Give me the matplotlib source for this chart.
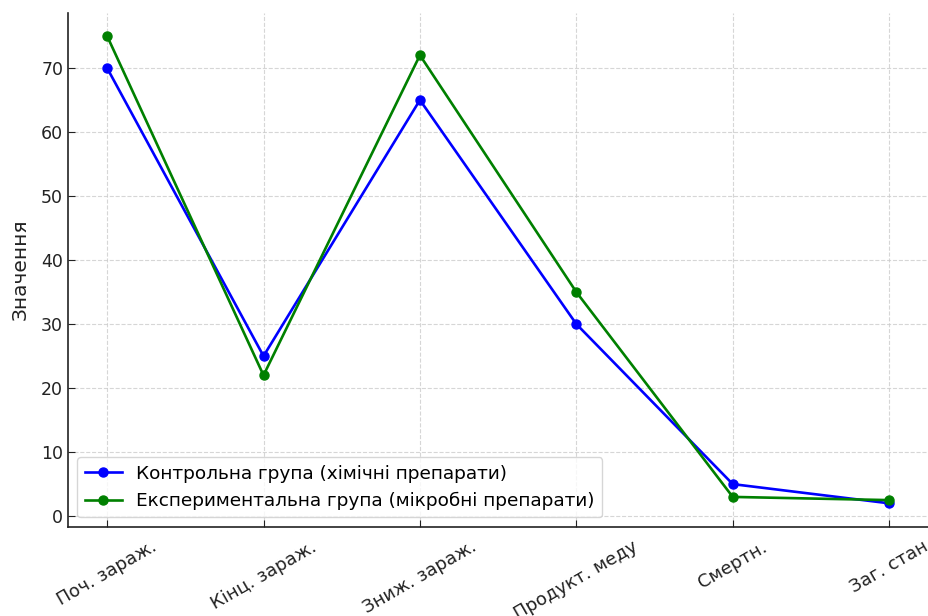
import matplotlib.pyplot as plt

categories = ["Поч. зараж.", "Кінц. зараж.", "Зниж. зараж.", "Продукт. меду", "Смертн.", "Заг. стан"]
control = [70, 25, 65, 30, 5, 2]
experimental = [75, 22, 72, 35, 3, 2.5]

plt.rcParams["font.family"] = "DejaVu Sans"

fig = plt.figure(figsize=(9.29, 6.16), dpi=100)
ax = fig.add_axes([0.0732, 0.145, 0.926, 0.8345])

ax.plot(categories, control, marker="o", color="blue", linewidth=1.9, markersize=6.5,
        label="Контрольна група (хімічні препарати)")
ax.plot(categories, experimental, marker="o", color="green", linewidth=1.9, markersize=6.5,
        label="Експериментальна група (мікробні препарати)")

ax.set_ylabel("Значення", fontsize=14.5, color="#222222", labelpad=8)
ax.set_yticks([0, 10, 20, 30, 40, 50, 60, 70])
ax.tick_params(axis="both", colors="#222222", length=5, direction="in")
ax.tick_params(axis="y", labelsize=12.5)
ax.tick_params(axis="x", labelsize=13, rotation=30, pad=8)
ax.grid(True, linestyle="--", color="#cccccc", linewidth=0.8, alpha=0.8)

ax.spines["top"].set_visible(False)
ax.spines["right"].set_visible(False)
ax.spines["left"].set_color("#222222")
ax.spines["bottom"].set_color("#222222")
ax.spines["left"].set_linewidth(1.2)
ax.spines["bottom"].set_linewidth(1.2)

ax.legend(loc="lower left", fontsize=13.3, framealpha=0.8)

plt.savefig("out.png", dpi=100)
plt.close()
